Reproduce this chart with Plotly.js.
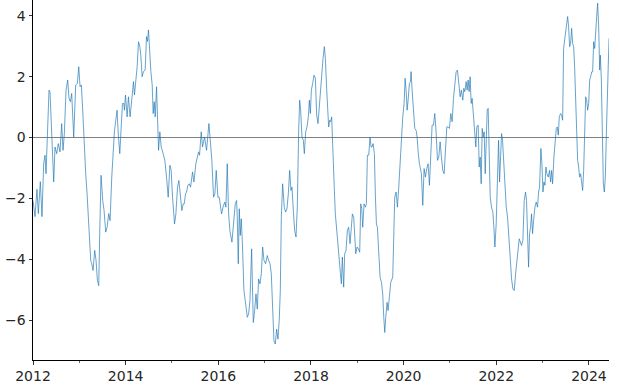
<!DOCTYPE html>
<html>
<head>
<meta charset="utf-8">
<script src="https://cdn.plot.ly/plotly-3.0.1.min.js"></script>
<style>html,body{margin:0;padding:0;background:#fff;}#chart{width:619px;height:385px;}</style>
</head>
<body>
<div id="chart"></div>
<script>
// Time in decimal years
const years = [
2012.000,2012.043,2012.086,2012.115,2012.158,2012.194,2012.230,2012.259,2012.281,2012.310,
2012.346,2012.367,2012.403,2012.447,2012.475,2012.511,2012.547,2012.583,2012.619,2012.648,
2012.677,2012.713,2012.749,2012.778,2012.807,2012.835,2012.879,2012.922,2012.958,2012.987,
2013.016,2013.044,2013.073,2013.102,2013.138,2013.167,2013.196,2013.224,2013.246,2013.268,
2013.296,2013.332,2013.361,2013.390,2013.419,2013.440,2013.469,2013.505,2013.534,2013.570,
2013.599,2013.635,2013.664,2013.700,2013.729,2013.757,2013.786,2013.815,2013.837,2013.858,
2013.873,2013.931,2013.960,2013.974,2013.996,2014.032,2014.060,2014.096,2014.140,2014.169,
2014.190,2014.219,2014.248,2014.277,2014.306,2014.327,2014.356,2014.385,2014.421,2014.450,
2014.472,2014.493,2014.522,2014.544,2014.573,2014.594,2014.616,2014.638,2014.667,2014.688,
2014.710,2014.738,2014.767,2014.810,2014.846,2014.882,2014.918,2014.955,2014.983,2015.012,
2015.055,2015.084,2015.120,2015.149,2015.184,2015.213,2015.242,2015.264,2015.293,2015.314,
2015.343,2015.372,2015.401,2015.444,2015.473,2015.516,2015.574,2015.595,2015.631,2015.660,
2015.703,2015.746,2015.797,2015.832,2015.861,2015.897,2015.926,2015.955,2015.991,2016.020,
2016.070,2016.106,2016.142,2016.164,2016.193,2016.222,2016.250,2016.294,2016.337,2016.366,
2016.395,2016.409,2016.431,2016.452,2016.474,2016.495,2016.517,2016.553,2016.582,2016.625,
2016.654,2016.683,2016.719,2016.733,2016.755,2016.784,2016.813,2016.841,2016.870,2016.899,
2016.928,2016.957,2016.986,2017.021,2017.057,2017.086,2017.115,2017.144,2017.172,2017.201,
2017.230,2017.259,2017.287,2017.316,2017.338,2017.360,2017.388,2017.424,2017.453,2017.482,
2017.511,2017.540,2017.568,2017.590,2017.619,2017.648,2017.677,2017.705,2017.734,2017.756,
2017.777,2017.806,2017.835,2017.857,2017.886,2017.914,2017.943,2017.965,2017.987,2018.008,
2018.037,2018.066,2018.095,2018.123,2018.152,2018.181,2018.210,2018.232,2018.260,2018.289,
2018.311,2018.340,2018.361,2018.382,2018.404,2018.425,2018.447,2018.461,2018.483,2018.505,
2018.526,2018.548,2018.577,2018.606,2018.634,2018.656,2018.677,2018.706,2018.728,2018.757,
2018.786,2018.814,2018.843,2018.872,2018.894,2018.923,2018.944,2018.966,2018.995,2019.024,
2019.052,2019.074,2019.096,2019.117,2019.146,2019.175,2019.196,2019.218,2019.247,2019.275,
2019.297,2019.319,2019.340,2019.369,2019.391,2019.413,2019.434,2019.463,2019.492,2019.521,
2019.549,2019.571,2019.593,2019.614,2019.643,2019.664,2019.693,2019.722,2019.765,2019.808,
2019.837,2019.866,2019.895,2019.924,2019.953,2019.981,2020.010,2020.032,2020.053,2020.075,
2020.097,2020.125,2020.147,2020.161,2020.183,2020.212,2020.241,2020.269,2020.291,2020.313,
2020.341,2020.384,2020.413,2020.442,2020.471,2020.500,2020.528,2020.557,2020.586,2020.615,
2020.644,2020.672,2020.701,2020.730,2020.759,2020.788,2020.816,2020.845,2020.874,2020.903,
2020.932,2020.960,2020.989,2021.018,2021.047,2021.076,2021.104,2021.133,2021.162,2021.191,
2021.220,2021.248,2021.277,2021.299,2021.321,2021.350,2021.371,2021.393,2021.414,2021.436,
2021.458,2021.479,2021.508,2021.537,2021.559,2021.580,2021.609,2021.631,2021.652,2021.674,
2021.696,2021.717,2021.739,2021.761,2021.782,2021.804,2021.825,2021.847,2021.869,2021.897,
2021.926,2021.948,2021.970,2021.998,2022.027,2022.049,2022.071,2022.092,2022.114,2022.135,
2022.157,2022.186,2022.215,2022.244,2022.272,2022.301,2022.330,2022.359,2022.388,2022.417,
2022.445,2022.474,2022.496,2022.545,2022.574,2022.603,2022.632,2022.653,2022.675,2022.697,
2022.718,2022.740,2022.761,2022.783,2022.805,2022.834,2022.862,2022.891,2022.913,2022.934,
2022.963,2022.985,2023.007,2023.028,2023.050,2023.071,2023.093,2023.122,2023.150,2023.172,
2023.194,2023.215,2023.244,2023.266,2023.295,2023.316,2023.338,2023.360,2023.388,2023.410,
2023.432,2023.453,2023.475,2023.496,2023.518,2023.540,2023.561,2023.583,2023.605,2023.626,
2023.648,2023.670,2023.691,2023.713,2023.735,2023.756,2023.778,2023.799,2023.821,2023.843,
2023.864,2023.886,2023.908,2023.929,2023.951,2023.972,2023.994,2024.016,2024.037,2024.059,
2024.080,2024.102,2024.124,2024.145,2024.167,2024.188,2024.210,2024.232,2024.246,2024.268,
2024.289,2024.311,2024.333,2024.354,2024.376,2024.397,2024.419,2024.433
];
const values = [
-2.07,-2.60,-1.70,-2.50,-1.45,-2.60,-0.86,-0.58,-1.19,0.02,
1.56,1.50,0.13,-1.46,-0.31,-0.53,-0.20,-0.47,0.46,-0.42,
0.13,1.56,1.89,1.29,1.18,1.45,0.02,1.73,1.78,2.33,
1.67,1.73,0.90,-0.20,-1.19,-1.85,-2.73,-3.49,-4.04,-4.15,
-4.37,-3.71,-4.04,-4.70,-4.87,-3.16,-1.24,-2.07,-2.40,-3.11,
-2.95,-2.50,-2.73,-1.30,-0.31,0.19,0.57,0.90,0.19,-0.31,
-0.53,1.12,1.12,0.90,1.40,0.68,1.34,0.68,1.56,1.84,
1.40,1.89,2.33,3.15,2.99,2.71,2.00,2.17,2.22,3.32,
3.16,3.54,2.61,2.17,1.73,0.79,1.18,0.68,1.67,0.57,
-0.42,0.19,-0.31,-0.53,-0.75,-1.30,-1.96,-0.91,-1.08,-1.96,
-2.84,-2.51,-1.63,-1.41,-2.07,-2.40,-2.18,-2.18,-1.85,-1.79,
-1.57,-1.52,-1.63,-1.13,-1.46,-0.86,-0.47,-0.58,0.19,-0.31,
0.02,-0.42,0.46,-0.09,-0.75,-1.96,-1.85,-1.08,-1.96,-1.96,
-2.51,-2.26,-2.12,-2.29,-0.86,-2.51,-3.06,-3.44,-2.51,-2.18,
-2.07,-2.62,-4.15,-2.34,-3.22,-2.67,-3.38,-5.03,-5.36,-5.91,
-5.80,-5.36,-3.66,-4.81,-6.08,-5.69,-5.14,-5.64,-4.65,-4.81,
-4.48,-3.60,-4.04,-4.15,-3.88,-4.04,-4.15,-4.48,-5.58,-6.68,
-6.79,-6.30,-6.63,-5.97,-5.03,-2.62,-1.52,-2.29,-2.45,-2.34,
-1.85,-1.08,-1.74,-1.63,-2.40,-3.06,-3.27,-2.29,0.19,1.23,
0.90,0.02,-0.09,-0.53,0.19,0.35,0.68,1.23,0.79,1.56,
1.78,2.05,1.95,0.74,0.46,1.01,1.56,2.27,2.60,2.99,
2.60,1.56,0.68,0.35,0.57,0.52,0.68,0.02,-1.30,-1.74,
-2.51,-2.95,-3.60,-4.15,-4.43,-4.81,-3.93,-4.92,-3.82,-3.71,
-3.05,-2.95,-3.49,-2.95,-2.51,-2.62,-3.16,-3.82,-3.60,-3.66,
-3.77,-2.18,-2.34,-2.95,-2.18,-2.29,-2.18,-0.58,-0.58,0.02,
-0.31,-0.31,-0.20,-0.53,-1.96,-2.84,-2.95,-3.93,-4.59,-4.76,
-5.14,-5.91,-6.41,-5.91,-5.42,-5.69,-5.14,-4.76,-4.59,-1.96,
-1.79,-2.29,-1.63,-0.75,0.13,0.68,1.12,1.95,1.56,0.90,
1.23,1.78,1.84,2.17,1.56,0.90,0.30,0.24,0.02,-0.47,
-0.86,-1.19,-2.23,-1.02,-1.30,-1.02,-0.86,-1.57,-0.64,0.41,
0.41,0.79,0.19,-0.75,-0.64,-0.14,-0.64,-1.08,-1.19,-0.31,
0.35,0.35,0.30,0.79,0.52,1.29,1.78,2.16,2.22,1.84,
1.34,1.56,1.23,1.62,1.51,1.84,1.56,1.89,1.51,2.00,
1.12,1.29,0.68,0.02,-0.31,0.35,0.41,-0.97,-0.64,-1.52,
0.30,0.02,0.19,-1.19,-0.09,0.90,0.96,-0.53,-1.96,-2.29,
-2.45,-2.95,-3.60,-2.84,-1.52,-0.09,-1.46,-0.31,0.13,-0.09,
-0.64,-1.63,-2.29,-2.62,-3.38,-4.15,-4.65,-4.98,-5.03,-4.48,
-4.04,-3.66,-3.33,-3.55,-3.38,-2.07,-1.79,-2.07,-3.16,-4.26,
-3.16,-2.95,-2.51,-3.16,-2.73,-2.29,-2.12,-2.29,-1.79,-1.63,
-0.36,-0.86,-1.79,-1.46,-1.57,-0.97,-1.19,-1.30,-1.08,-1.46,
-1.08,-1.52,-0.64,-0.09,0.30,0.35,0.08,0.68,0.79,0.74,
0.57,2.93,3.21,3.32,3.70,3.98,3.65,2.99,3.10,3.59,
3.10,2.99,2.33,1.23,-0.42,-0.75,-0.97,-1.30,-1.19,-1.46,
-1.74,-1.08,0.13,1.34,1.23,0.90,1.12,1.89,2.00,2.16,
2.16,3.15,2.93,3.65,3.98,4.42,3.65,2.22,2.71,1.89,
0.35,-1.52,-1.79,-1.30,0.13,1.23,2.33,3.26
];
const xRange = [2012, 2024.433];
const yRange = [-7.315, 4.524];

const tickFont = {family: 'DejaVu Sans, sans-serif', size: 14, color: '#262626'};

const trace = {
  x: years, y: values, type: 'scatter', mode: 'lines',
  line: {color: 'rgba(31,119,180,0.85)', width: 0.8},
  hoverinfo: 'skip'
};

const layout = {
  width: 619, height: 385,
  margin: {l: 33, r: 10, t: 0, b: 25, pad: 0},
  paper_bgcolor: '#ffffff', plot_bgcolor: '#ffffff',
  showlegend: false,
  xaxis: {
    range: xRange, tick0: 2012, dtick: 2, tickformat: 'd',
    showline: true, linecolor: '#000', linewidth: 1,
    ticks: 'outside', ticklen: 3.5, tickwidth: 0.8, tickcolor: '#000',
    showgrid: false, zeroline: false, tickfont: tickFont,
    minor: {tick0: 2012, dtick: 1, ticks: 'outside', ticklen: 2, tickwidth: 0.6, tickcolor: '#000', showgrid: false}
  },
  yaxis: {
    range: yRange, tick0: 0, dtick: 2,
    showline: true, linecolor: '#000', linewidth: 1,
    ticks: 'outside', ticklen: 3.5, tickwidth: 0.8, tickcolor: '#000',
    showgrid: false, zeroline: true, zerolinecolor: '#808080', zerolinewidth: 1.2,
    layer: 'above traces',
    tickfont: tickFont
  }
};

Plotly.newPlot('chart', [trace], layout, {staticPlot: true, displayModeBar: false});
</script>
</body>
</html>
